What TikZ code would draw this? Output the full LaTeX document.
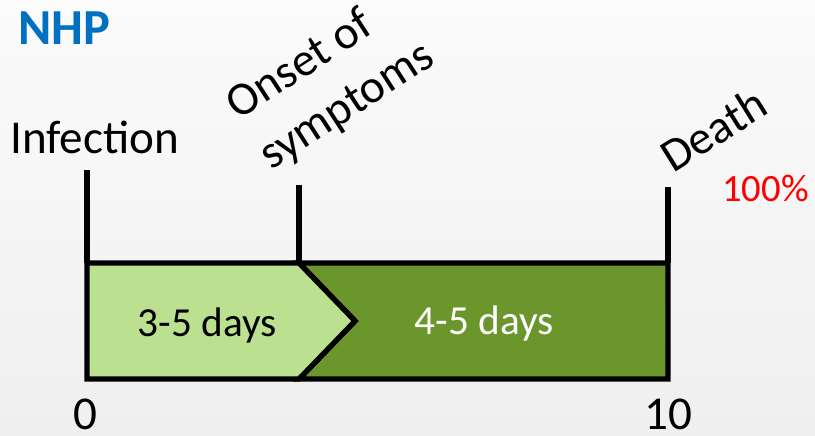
\documentclass[tikz,border=0pt]{standalone}
\usepackage{fontspec}
\setmainfont{Carlito}
\definecolor{nhpblue}{HTML}{0070C0}
\definecolor{lightphase}{HTML}{BBE08F}
\definecolor{darkphase}{HTML}{6A962C}
\definecolor{bgtop}{HTML}{FBFBFB}
\definecolor{bgbottom}{HTML}{EFEFEF}
\begin{document}
\begin{tikzpicture}[
  tick/.style={line width=3pt},
  phase/.style={draw=black, line width=3pt, line join=miter},
  lbl/.style={inner sep=0pt, font=\fontsize{26.8}{34}\selectfont},
  dur/.style={inner sep=0pt, anchor=base, font=\fontsize{23.5}{28}\selectfont},
]
\shade[top color=bgtop, bottom color=bgbottom] (0,0) rectangle (16.3,8.72);
\useasboundingbox (0,0) rectangle (16.3,8.72);
% bar corners
\coordinate (inftop) at (1.74,3.46);
\coordinate (infbot) at (1.74,1.14);
\coordinate (onstop) at (5.98,3.46);
\coordinate (onsbot) at (5.98,1.14);
\coordinate (onstip) at (7.10,2.30);
\coordinate (dthtop) at (13.36,3.46);
\coordinate (dthbot) at (13.36,1.14);
% tick ends
\coordinate (infmark) at (1.74,5.32);
\coordinate (onsmark) at (5.98,5.02);
\coordinate (dthmark) at (13.36,4.98);
% phases
\draw[phase, fill=darkphase] (onstop) -- (dthtop) -- (dthbot) -- (onsbot) -- (onstip) -- cycle;
\draw[phase, fill=lightphase] (inftop) -- (onstop) -- (onstip) -- (onsbot) -- (infbot) -- cycle;
\draw[tick] (infmark) -- (inftop);
\draw[tick] (onsmark) -- (onstop);
\draw[tick] (dthmark) -- (dthtop);
% labels
\node[inner sep=0pt, anchor=base west, text=nhpblue, font=\fontsize{28.7}{34}\selectfont\bfseries] (nhp) at (0.36,7.82) {NHP};
\node[lbl, anchor=base west, text height=0pt] (infection) at (0.2,5.64) {Infection};
\node[lbl, anchor=base west, rotate=33, align=left] (onset) at (5.42,5.30) {Onset of\\symptoms};
\node[lbl, anchor=base west, rotate=32] (death) at (13.46,5.24) {Death};
\node[inner sep=0pt, anchor=base west, text=red, font=\fontsize{22}{26}\selectfont] (rate) at (14.44,4.68) {100\%};
\node[dur] (early) at (4.14,1.98) {3-5 days};
\node[dur, text=white] (late) at (9.68,2.02) {4-5 days};
\node[lbl, anchor=base] (day0) at (1.70,0.12) {0};
\node[lbl, anchor=base] (day10) at (13.36,0.12) {10};
\end{tikzpicture}
\end{document}
